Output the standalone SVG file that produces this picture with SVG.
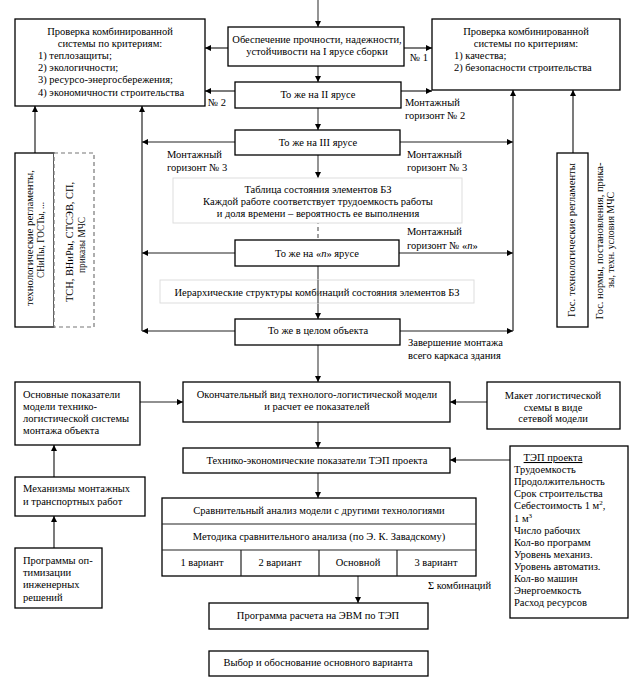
<svg xmlns="http://www.w3.org/2000/svg" width="634" height="687" viewBox="0 0 634 687">
<style>
text{font-family:"Liberation Serif","Times New Roman",serif;font-size:10.5px;fill:#000}
.c{text-anchor:middle}
.box{fill:#fff;stroke:#000;stroke-width:1.3}
.lbox{fill:#fff;stroke:#ddd;stroke-width:1}
.dbox{fill:#fff;stroke:#777;stroke-width:1.2;stroke-dasharray:4 3}
.ln{fill:none;stroke:#222;stroke-width:1.2;marker-end:url(#ah)}
.gl{fill:none;stroke:#666;stroke-width:1.4;marker-end:url(#ah)}
.pl{fill:none;stroke:#222;stroke-width:1.2}
.dash{fill:none;stroke:#888;stroke-width:1.6;stroke-dasharray:4 3}
</style>
<defs>
<marker id="ah" viewBox="0 0 10 10" refX="10" refY="5" markerWidth="6" markerHeight="6" markerUnits="userSpaceOnUse" orient="auto">
<path d="M0,0 L10,5 L0,10 z" fill="#000"/>
</marker>
</defs>

<g id="connectors">
<path class="gl" d="M318,0 V27"/>
<path class="ln" d="M228,48 H205"/>
<path class="ln" d="M404,48 H432"/>
<path class="gl" d="M318,66 V82"/>
<path class="ln" d="M235,91 H205"/>
<path class="ln" d="M401,91 H432"/>
<path class="gl" d="M318,108 V130"/>
<path class="ln" d="M235,142 H142"/>
<path class="ln" d="M400,142 H513"/>
<path class="gl" d="M318,155 V178"/>
<path class="dash" d="M318,178 V240"/>
<path class="ln" d="M235,253 H142"/>
<path class="ln" d="M399,253 H513"/>
<path class="gl" d="M318,266 V319"/>
<path class="ln" d="M235,331 H142"/>
<path class="ln" d="M400,331 H513"/>
<path class="ln" d="M142,331 V106"/>
<path class="ln" d="M513,331 V90"/>
<path class="ln" d="M35,153 V106"/>
<path class="ln" d="M573,153 V90"/>
<path class="gl" d="M318,345 V382"/>
<path class="ln" d="M140,402 H183"/>
<path class="ln" d="M487,402 H450"/>
<path class="gl" d="M318,422 V448"/>
<path class="ln" d="M510,460 H450"/>
<path class="gl" d="M318,473 V498"/>
<path class="ln" d="M54,477 V445"/>
<path class="ln" d="M54,548 V516"/>
<path class="gl" d="M358,576 V603"/>
</g>

<g id="lbl">
<text x="410" y="61">№ 1</text>
<text x="208" y="106">№ 2</text>
<text x="405" y="106">Монтажный</text>
<text x="405" y="119">горизонт № 2</text>
<text x="167" y="158">Монтажный</text>
<text x="167" y="171">горизонт № 3</text>
<text x="407" y="158">Монтажный</text>
<text x="407" y="171">горизонт № 3</text>
<text x="407" y="235">Монтажный</text>
<text x="407" y="249">горизонт № «<tspan font-style="italic">n</tspan>»</text>
<text x="408" y="346">Завершение монтажа</text>
<text x="408" y="359">всего каркаса здания</text>
<text x="428" y="589">Σ комбинаций</text>
</g>

<g id="check1">
<rect class="box" x="15" y="19" width="190" height="87"/>
<text class="c" x="110" y="35">Проверка комбинированной</text>
<text class="c" x="110" y="47">системы по критериям:</text>
<text x="38" y="58.5">1) теплозащиты;</text>
<text x="38" y="70.5">2) экологичности;</text>
<text x="38" y="83">3) ресурсо-энергосбережения;</text>
<text x="38" y="95.5">4) экономичности строительства</text>
</g>

<g id="check2">
<rect class="box" x="432" y="19" width="188" height="71"/>
<text class="c" x="526" y="35">Проверка комбинированной</text>
<text class="c" x="526" y="47">системы по критериям:</text>
<text x="454" y="58.5">1) качества;</text>
<text x="454" y="70.5">2) безопасности строительства</text>
</g>

<g id="tier1">
<rect class="box" x="228" y="27" width="176" height="39"/>
<text class="c" x="317" y="43">Обеспечение прочности, надежности,</text>
<text class="c" x="317" y="55">устойчивости на I ярусе сборки</text>
</g>

<g id="tier2">
<rect class="box" x="235" y="82" width="166" height="26"/>
<text class="c" x="318" y="98">То же на II ярусе</text>
</g>

<g id="tier3">
<rect class="box" x="235" y="130" width="165" height="25"/>
<text class="c" x="318" y="146">То же на III ярусе</text>
</g>

<g id="table">
<rect class="lbox" x="173" y="178" width="289" height="45"/>
<text class="c" x="318" y="193">Таблица состояния элементов БЗ</text>
<text class="c" x="318" y="205">Каждой работе соответствует трудоемкость работы</text>
<text class="c" x="318" y="217">и доля времени – вероятность ее выполнения</text>
</g>

<g id="tiern">
<rect class="box" x="235" y="240" width="164" height="26"/>
<text class="c" x="317" y="257">То же на «<tspan font-style="italic">n</tspan>» ярусе</text>
</g>

<g id="hier">
<rect class="lbox" x="160" y="280" width="314" height="23"/>
<text class="c" x="317" y="296">Иерархические структуры комбинаций состояния элементов БЗ</text>
<path class="gl" d="M318,280 V303" style="marker-end:none"/>
</g>

<g id="whole">
<rect class="box" x="235" y="319" width="165" height="26"/>
<text class="c" x="318" y="334">То же в целом объекта</text>
</g>

<g id="reg1">
<rect class="box" x="15" y="153" width="39" height="174"/>
<text class="c" transform="translate(33,238) rotate(-90)" textLength="136" lengthAdjust="spacingAndGlyphs">технологические регламенты,</text>
<text class="c" transform="translate(44,240) rotate(-90)" textLength="76" lengthAdjust="spacingAndGlyphs">СНиПы, ГОСТы, ...</text>
</g>

<g id="reg2">
<rect class="dbox" x="54" y="153" width="40" height="174"/>
<text class="c" transform="translate(73,242) rotate(-90)" textLength="120" lengthAdjust="spacingAndGlyphs">ТСН, ВНиРы, СТСЭВ, СП,</text>
<text class="c" transform="translate(85,245) rotate(-90)" textLength="56" lengthAdjust="spacingAndGlyphs">приказы МЧС</text>
</g>

<g id="reg3">
<rect class="box" x="557" y="153" width="31" height="174"/>
<text class="c" transform="translate(575,240) rotate(-90)" textLength="154" lengthAdjust="spacingAndGlyphs">Гос. технологические регламенты</text>
</g>

<g id="norms">
<text class="c" transform="translate(603,241) rotate(-90)" textLength="157" lengthAdjust="spacingAndGlyphs">Гос. нормы, постановления, прика-</text>
<text class="c" transform="translate(614,240) rotate(-90)" textLength="96" lengthAdjust="spacingAndGlyphs">зы, техн. условия МЧС</text>
</g>

<g id="final">
<rect class="box" x="183" y="382" width="267" height="40"/>
<text class="c" x="317" y="398">Окончательный вид технолого-логистической модели</text>
<text class="c" x="317" y="410">и расчет ее показателей</text>
</g>

<g id="tep">
<rect class="box" x="183" y="448" width="267" height="25"/>
<text class="c" x="317" y="464">Технико-экономические показатели ТЭП проекта</text>
</g>

<g id="compare">
<rect class="box" x="162" y="498" width="314" height="78"/>
<path class="pl" d="M162,524 H476 M162,550 H476 M241,550 V576 M319,550 V576 M397,550 V576"/>
<text class="c" x="319" y="514">Сравнительный анализ модели с другими технологиями</text>
<text class="c" x="319" y="540">Методика сравнительного анализа (по Э. К. Завадскому)</text>
<text class="c" x="202" y="566">1 вариант</text>
<text class="c" x="280" y="566">2 вариант</text>
<text class="c" x="358" y="566">Основной</text>
<text class="c" x="436" y="566">3 вариант</text>
</g>

<g id="program">
<rect class="box" x="209" y="603" width="219" height="26"/>
<text class="c" x="318" y="619">Программа расчета на ЭВМ по ТЭП</text>
</g>

<g id="choice">
<rect class="box" x="209" y="651" width="219" height="25"/>
<text class="c" x="318" y="666">Выбор и обоснование основного варианта</text>
</g>

<g id="basic">
<rect class="box" x="15" y="382" width="125" height="63"/>
<text x="23" y="398">Основные показатели</text>
<text x="23" y="410">модели технико-</text>
<text x="23" y="422">логистической системы</text>
<text x="23" y="434">монтажа объекта</text>
</g>

<g id="mech">
<rect class="box" x="15" y="477" width="130" height="39"/>
<text x="23" y="492">Механизмы монтажных</text>
<text x="23" y="505">и транспортных работ</text>
</g>

<g id="progs">
<rect class="box" x="15" y="548" width="87" height="60"/>
<text x="23" y="564">Программы оп-</text>
<text x="23" y="576">тимизации</text>
<text x="23" y="588">инженерных</text>
<text x="23" y="601">решений</text>
</g>

<g id="maket">
<rect class="box" x="487" y="382" width="133" height="47"/>
<text class="c" x="553" y="399">Макет логистической</text>
<text class="c" x="553" y="411">схемы в виде</text>
<text class="c" x="553" y="422">сетевой модели</text>
</g>

<g id="tepproj">
<rect class="box" x="510" y="446" width="118" height="172"/>
<text class="c" x="553" y="461" text-decoration="underline">ТЭП проекта</text>
<text x="514" y="473">Трудоемкость</text>
<text x="514" y="485">Продолжительность</text>
<text x="514" y="497">Срок строительства</text>
<text x="514" y="509">Себестоимость 1 м<tspan dy="-4" font-size="7">2</tspan><tspan dy="4">,</tspan></text>
<text x="514" y="522">1 м<tspan dy="-4" font-size="7">3</tspan></text>
<text x="514" y="534">Число рабочих</text>
<text x="514" y="546">Кол-во программ</text>
<text x="514" y="558">Уровень механиз.</text>
<text x="514" y="570">Уровень автоматиз.</text>
<text x="514" y="582">Кол-во машин</text>
<text x="514" y="594">Энергоемкость</text>
<text x="514" y="606">Расход ресурсов</text>
</g>
</svg>
